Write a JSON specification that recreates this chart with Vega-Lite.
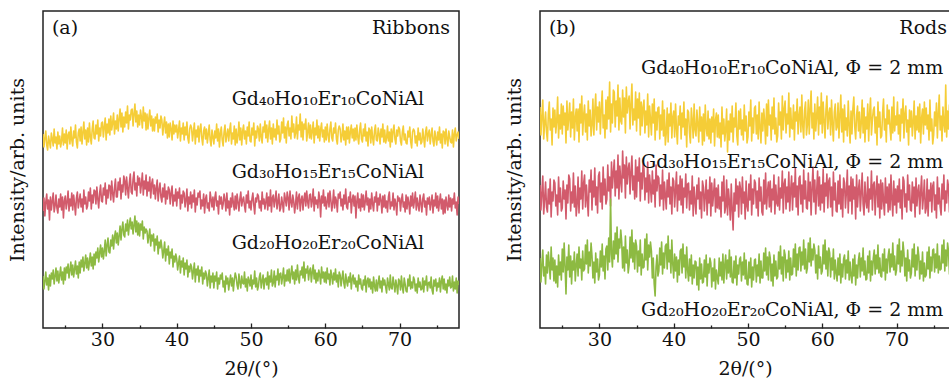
{
"$schema": "https://vega.github.io/schema/vega-lite/v6.json",
"padding": {"left": 7, "top": 10, "right": 0, "bottom": 0},
"spacing": 44,
"datasets": {
"xrd": [{
"x": [22,22.125,22.25,22.375,22.5,22.625,22.75,22.875,23,23.125,23.25,23.375,23.5,23.625,23.75,23.875,24,24.125,24.25,24.375,24.5,24.625,24.75,24.875,25,25.125,25.25,25.375,25.5,25.625,25.75,25.875,26,26.125,26.25,26.375,26.5,26.625,26.75,26.875,27,27.125,27.25,27.375,27.5,27.625,27.75,27.875,28,28.125,28.25,28.375,28.5,28.625,28.75,28.875,29,29.125,29.25,29.375,29.5,29.625,29.75,29.875,30,30.125,30.25,30.375,30.5,30.625,30.75,30.875,31,31.125,31.25,31.375,31.5,31.625,31.75,31.875,32,32.125,32.25,32.375,32.5,32.625,32.75,32.875,33,33.125,33.25,33.375,33.5,33.625,33.75,33.875,34,34.125,34.25,34.375,34.5,34.625,34.75,34.875,35,35.125,35.25,35.375,35.5,35.625,35.75,35.875,36,36.125,36.25,36.375,36.5,36.625,36.75,36.875,37,37.125,37.25,37.375,37.5,37.625,37.75,37.875,38,38.125,38.25,38.375,38.5,38.625,38.75,38.875,39,39.125,39.25,39.375,39.5,39.625,39.75,39.875,40,40.125,40.25,40.375,40.5,40.625,40.75,40.875,41,41.125,41.25,41.375,41.5,41.625,41.75,41.875,42,42.125,42.25,42.375,42.5,42.625,42.75,42.875,43,43.125,43.25,43.375,43.5,43.625,43.75,43.875,44,44.125,44.25,44.375,44.5,44.625,44.75,44.875,45,45.125,45.25,45.375,45.5,45.625,45.75,45.875,46,46.125,46.25,46.375,46.5,46.625,46.75,46.875,47,47.125,47.25,47.375,47.5,47.625,47.75,47.875,48,48.125,48.25,48.375,48.5,48.625,48.75,48.875,49,49.125,49.25,49.375,49.5,49.625,49.75,49.875,50,50.125,50.25,50.375,50.5,50.625,50.75,50.875,51,51.125,51.25,51.375,51.5,51.625,51.75,51.875,52,52.125,52.25,52.375,52.5,52.625,52.75,52.875,53,53.125,53.25,53.375,53.5,53.625,53.75,53.875,54,54.125,54.25,54.375,54.5,54.625,54.75,54.875,55,55.125,55.25,55.375,55.5,55.625,55.75,55.875,56,56.125,56.25,56.375,56.5,56.625,56.75,56.875,57,57.125,57.25,57.375,57.5,57.625,57.75,57.875,58,58.125,58.25,58.375,58.5,58.625,58.75,58.875,59,59.125,59.25,59.375,59.5,59.625,59.75,59.875,60,60.125,60.25,60.375,60.5,60.625,60.75,60.875,61,61.125,61.25,61.375,61.5,61.625,61.75,61.875,62,62.125,62.25,62.375,62.5,62.625,62.75,62.875,63,63.125,63.25,63.375,63.5,63.625,63.75,63.875,64,64.125,64.25,64.375,64.5,64.625,64.75,64.875,65,65.125,65.25,65.375,65.5,65.625,65.75,65.875,66,66.125,66.25,66.375,66.5,66.625,66.75,66.875,67,67.125,67.25,67.375,67.5,67.625,67.75,67.875,68,68.125,68.25,68.375,68.5,68.625,68.75,68.875,69,69.125,69.25,69.375,69.5,69.625,69.75,69.875,70,70.125,70.25,70.375,70.5,70.625,70.75,70.875,71,71.125,71.25,71.375,71.5,71.625,71.75,71.875,72,72.125,72.25,72.375,72.5,72.625,72.75,72.875,73,73.125,73.25,73.375,73.5,73.625,73.75,73.875,74,74.125,74.25,74.375,74.5,74.625,74.75,74.875,75,75.125,75.25,75.375,75.5,75.625,75.75,75.875,76,76.125,76.25,76.375,76.5,76.625,76.75,76.875,77,77.125,77.25,77.375,77.5,77.625,77.75,77.875,78],
"a1": [194,181,190,197,183,178,192,186,180,195,189,182,199,185,191,179,196,184,192,181,187,200,183,194,185,198,179,193,196,184,201,188,182,197,190,203,186,180,195,199,187,201,184,196,206,189,198,183,200,186,205,191,184,199,207,190,189,203,194,208,187,200,192,205,206,191,201,210,188,204,195,209,193,212,198,205,215,194,207,199,213,197,209,219,201,215,196,211,201,216,205,222,199,213,208,218,219,202,214,224,206,217,201,213,203,218,211,200,221,207,215,198,214,199,210,218,202,212,197,209,197,211,205,214,196,208,200,212,208,193,203,211,195,206,190,204,191,205,199,188,207,194,203,196,203,190,198,207,187,200,194,205,188,201,193,206,190,185,199,203,200,187,196,205,184,198,191,202,186,199,204,190,183,197,201,189,199,185,194,203,188,182,198,191,184,197,190,204,187,199,181,195,201,188,182,196,203,186,193,199,187,198,205,184,195,189,202,183,199,185,192,206,188,200,183,197,203,189,197,184,201,192,206,187,186,200,193,205,182,197,190,202,199,187,204,191,185,201,196,207,190,203,186,198,207,189,200,184,204,191,199,188,208,194,202,186,189,206,195,210,190,201,185,203,207,192,200,189,212,196,204,190,195,211,189,203,198,214,191,206,188,204,199,209,187,196,205,190,203,189,197,206,185,200,193,208,190,202,187,199,205,191,198,186,201,188,204,193,186,199,206,190,187,200,195,205,189,184,198,202,199,186,192,204,188,197,183,201,189,201,185,196,203,190,199,187,200,188,203,191,184,198,205,189,186,199,192,204,187,196,182,200,198,185,201,190,183,197,203,188,187,200,194,184,199,191,204,186,198,185,190,202,187,196,181,199,186,197,203,189,184,198,192,201,199,187,183,196,202,188,194,185,184,197,191,201,186,180,196,199,197,185,192,182,200,188,195,184,186,199,190,181,196,201,187,194,198,184,193,200,187,182,197,190,183,196,188,201,185,194,180,197,196,184,199,189,182,197,191,186,185,198,181,194,200,187,193,196,189],
"a2": [117,130,112,126,134,119,128,108,131,118,127,135,116,122,133,120,115,129,121,134,118,131,110,127,132,119,126,137,117,129,122,135,118,133,124,113,130,136,120,127,134,121,129,116,138,124,131,119,122,136,127,140,119,133,125,138,137,124,141,129,120,135,143,127,126,140,133,145,124,138,130,143,142,128,147,135,126,140,149,131,131,146,138,150,129,143,136,152,147,133,151,140,130,145,154,136,134,149,156,138,145,132,152,143,150,135,144,155,133,147,139,153,132,146,137,151,130,144,149,134,143,129,140,148,127,138,145,131,126,140,131,144,124,137,129,141,138,124,135,142,122,133,127,139,122,136,130,140,119,133,125,137,135,121,128,139,117,131,124,136,120,133,126,138,116,130,123,135,131,137,119,128,122,134,115,129,133,120,125,117,136,129,121,131,118,130,136,122,127,114,132,124,131,119,124,134,128,117,135,120,127,113,130,121,135,125,118,132,119,134,126,117,129,136,122,128,131,122,116,133,125,137,120,127,118,129,135,123,114,130,126,134,132,120,127,117,136,124,129,119,126,135,118,131,122,138,116,130,133,121,128,137,119,126,134,117,120,131,124,116,135,129,122,136,130,118,137,126,121,133,127,115,124,136,119,130,134,117,128,132,118,129,135,122,137,126,120,133,134,121,127,139,117,131,124,128,120,136,129,111,132,125,138,122,131,119,126,135,121,137,128,117,125,138,120,131,127,116,134,130,136,122,129,118,133,124,139,121,119,131,126,136,115,128,133,122,132,110,127,135,120,129,117,134,121,133,118,126,137,123,130,116,129,119,135,124,117,131,126,136,117,130,123,134,128,115,132,121,133,120,127,116,131,136,119,126,122,135,118,129,124,113,132,127,130,117,128,134,121,126,116,133,119,131,125,114,132,122,135,120,127,136,118,130,123,117,133,125,116,129,134,121,127,113,130,124,131,118,125,133,115,128,122,135,120,132,117,126,134,119,129,114,128,115,131,123,118,133,121,130,117,129,124,135,120,126,113,131,124],
"a3": [52,39,47,56,43,50,38,53,42,55,49,58,44,52,60,47,57,45,53,61,48,56,44,60,48,61,55,64,50,58,66,53,63,51,59,67,54,62,50,66,55,68,61,71,57,65,73,60,70,58,66,75,62,71,59,74,63,76,70,80,66,75,83,71,80,69,77,88,72,83,90,76,75,88,82,93,79,91,97,85,95,83,92,102,88,99,106,93,91,104,97,108,93,103,110,99,106,94,103,112,96,107,93,105,92,104,98,107,89,101,95,99,97,85,92,99,82,93,87,94,77,89,83,92,74,86,80,88,81,70,77,86,67,79,73,82,64,76,70,79,61,72,66,74,69,58,65,72,55,67,61,70,53,65,59,68,51,62,56,64,61,49,57,65,46,59,53,62,46,58,52,61,44,55,49,57,54,42,50,58,40,52,46,55,40,52,47,56,39,50,44,53,49,55,41,47,36,52,44,50,38,46,53,42,50,37,48,55,51,43,39,54,46,40,52,45,44,56,41,49,37,51,47,42,53,39,48,44,57,41,50,38,42,51,55,40,47,53,39,49,50,43,56,39,52,46,58,42,45,57,41,52,48,59,43,54,55,44,51,60,42,53,47,58,47,59,45,54,62,49,56,44,58,48,63,51,45,57,53,61,50,66,47,59,55,62,48,57,60,46,56,63,49,58,45,55,47,58,53,44,61,50,56,46,56,45,60,49,54,43,58,52,44,55,48,59,46,53,41,56,53,42,50,57,45,40,54,47,42,51,46,55,39,49,53,44,50,41,47,37,53,44,49,40,38,48,43,52,36,47,50,41,49,39,46,35,51,42,37,48,37,45,52,40,47,36,50,43,48,41,35,50,44,38,53,40,39,51,44,36,48,42,34,49,47,38,52,41,35,50,44,37,36,49,42,53,39,46,40,51,48,37,44,35,50,41,46,38,39,50,36,47,43,52,37,45,46,40,51,38,34,48,42,49,37,45,41,50,36,47,52,39,49,38,44,35,48,42,51,40,41,52,37,46,39,50,35,47,43],
"b1": [221,193,212,228,189,205,216,196,187,214,226,198,209,183,220,201,218,195,207,231,190,213,199,224,194,222,203,215,185,227,198,211,225,191,216,200,229,188,210,219,197,219,186,224,205,232,193,213,223,196,214,188,227,202,218,192,203,229,193,217,234,198,221,206,226,194,219,237,200,213,190,228,199,231,209,246,196,224,205,238,236,201,227,212,243,198,230,207,204,238,211,230,195,241,215,226,232,199,224,244,203,219,208,236,197,229,210,235,193,226,202,221,228,195,217,203,234,191,222,209,193,224,205,229,188,216,198,220,221,189,213,198,227,192,218,183,195,220,186,214,202,225,190,211,217,191,224,199,184,212,203,222,189,215,201,226,193,209,181,218,216,195,185,220,207,190,224,198,192,218,204,186,221,197,211,183,214,187,223,200,192,217,189,209,185,211,196,219,182,208,215,191,213,190,205,181,221,194,209,187,198,219,176,207,188,214,196,222,186,210,201,225,192,183,217,199,219,193,208,188,223,197,212,185,191,216,202,228,187,210,195,220,222,194,213,189,226,200,185,215,197,219,206,184,224,192,228,203,213,188,221,199,230,194,210,186,192,225,203,216,189,232,198,219,227,195,214,204,235,191,220,200,199,223,188,216,207,229,194,212,221,196,233,202,190,218,226,193,203,228,194,219,237,200,215,189,224,197,212,231,193,221,204,235,195,226,207,190,218,232,199,214,220,193,228,204,187,216,224,198,201,225,190,213,233,196,219,186,223,198,210,192,227,203,185,217,194,219,231,201,189,213,222,197,216,190,205,228,195,220,186,211,199,224,187,214,230,193,208,218,221,195,211,183,226,201,216,190,192,215,229,198,209,186,223,204,218,200,188,221,195,231,197,212,203,226,194,213,187,219,205,229,190,214,222,196,208,183,218,201,217,192,206,227,189,212,198,221,196,224,185,210,219,194,226,203,220,199,213,188,228,197,209,184,193,216,202,225,190,214,233,198,212,187,221,204,196,243,191,217,199,223,210,201,188,219,206,213,206],
"b2": [143,118,135,152,114,129,146,121,116,139,124,149,111,136,127,148,145,122,133,113,151,126,140,117,120,147,129,138,109,143,125,153,149,117,136,125,155,121,142,112,124,151,115,140,129,157,119,145,153,121,143,128,112,148,136,158,118,147,131,160,123,141,115,152,156,126,145,119,161,133,149,124,129,163,137,151,122,166,140,155,168,132,157,140,173,129,162,147,136,177,150,163,130,171,144,159,165,134,156,172,138,152,129,168,131,161,147,170,127,155,139,164,159,128,150,136,166,125,153,141,126,157,134,148,121,163,137,152,150,122,143,129,158,118,146,133,119,148,131,155,124,141,114,150,147,121,138,156,117,143,128,152,123,149,115,140,131,154,120,144,145,118,137,124,152,112,141,127,114,143,129,150,119,136,110,147,141,117,133,148,113,138,125,151,112,145,122,135,149,116,140,120,143,119,131,111,146,127,152,115,121,148,113,139,126,108,144,118,98,135,117,149,124,142,111,146,139,114,151,125,136,109,147,122,117,144,128,153,113,139,124,148,145,120,137,112,150,127,141,116,113,148,124,155,119,136,146,121,147,116,139,128,153,114,143,125,122,151,118,140,130,157,115,144,149,119,141,126,156,117,138,152,118,145,131,160,121,142,113,150,152,124,143,116,158,129,147,120,119,155,127,146,113,140,161,126,148,114,137,157,122,151,118,143,125,159,116,145,132,154,120,147,150,121,141,112,156,128,145,117,116,147,124,153,119,139,111,150,145,120,136,158,115,142,127,151,114,149,129,141,109,153,121,138,148,117,135,155,124,113,146,127,120,151,116,139,129,157,118,143,146,113,137,152,121,144,110,148,119,145,127,113,150,125,141,116,144,118,153,129,112,147,123,139,115,142,126,149,120,138,109,151,147,121,134,116,153,128,143,118,117,146,125,141,111,150,122,137,143,114,136,152,119,131,148,115,120,149,112,138,127,145,116,142,146,118,133,110,151,124,140,121,113,144,129,153,117,137,125,148,141,116,150,122,135,112,146,127,131],
"b3": [70,46,64,78,52,61,44,73,55,76,63,49,81,58,70,47,68,45,62,41,73,53,66,48,79,56,85,62,34,71,58,83,51,72,44,67,58,76,47,63,74,52,81,60,69,48,77,57,59,83,64,88,55,76,62,85,72,50,66,45,75,56,69,48,53,77,61,84,57,72,49,79,82,58,90,66,129,74,61,87,69,95,74,101,66,89,80,98,86,60,81,57,92,65,78,55,63,91,70,98,66,85,59,88,82,56,77,62,88,53,74,60,61,89,68,94,58,83,71,86,77,50,70,44,32,61,73,52,57,80,63,86,54,75,60,82,84,59,92,66,78,55,88,64,50,74,57,71,46,68,53,77,79,55,84,61,73,50,81,58,47,69,52,73,44,63,50,67,66,43,61,38,70,49,64,45,46,68,51,73,42,64,55,70,65,41,60,47,69,39,58,50,44,70,52,66,48,74,45,63,73,49,68,55,78,51,71,46,45,67,50,72,43,63,54,69,71,47,66,53,75,49,68,44,43,66,50,70,41,61,48,68,69,46,63,52,74,45,67,50,50,75,57,80,53,71,48,76,70,47,64,42,73,52,67,49,51,76,59,82,54,71,47,78,73,50,68,56,77,48,70,53,54,79,61,84,52,74,58,80,81,57,76,63,88,59,79,55,60,85,66,90,62,79,68,84,78,55,73,49,82,60,71,54,57,83,64,88,59,77,52,80,75,51,70,58,79,49,68,55,47,70,53,74,45,64,51,69,73,49,68,55,77,48,66,52,45,69,52,73,43,63,50,68,75,51,70,57,80,53,67,48,49,72,55,77,47,67,53,70,78,54,73,59,83,55,70,52,51,74,57,79,48,69,55,72,79,56,74,61,85,58,72,53,58,83,64,89,56,77,62,86,75,52,70,47,78,57,68,50,55,79,61,84,52,73,58,81,72,49,67,54,76,47,65,51,53,76,59,81,50,71,57,78,79,56,74,60,84,55,72,58,59,83,65,88,57,78,62,85,77,54,72,59,81,56,70,52,65]
}],
"labels": [
{"p":"a","x":23.2,"y":294,"t":"(a)","al":"l"},
{"p":"a","x":76.8,"y":294,"t":"Ribbons","al":"r"},
{"p":"a","x":47.4,"y":223,"t":"Gd₄₀Ho₁₀Er₁₀CoNiAl","al":"l"},
{"p":"a","x":47.4,"y":150,"t":"Gd₃₀Ho₁₅Er₁₅CoNiAl","al":"l"},
{"p":"a","x":47.4,"y":79,"t":"Gd₂₀Ho₂₀Er₂₀CoNiAl","al":"l"},
{"p":"b","x":23.2,"y":294,"t":"(b)","al":"l"},
{"p":"b","x":76.8,"y":294,"t":"Rods","al":"r"},
{"p":"b","x":35.6,"y":254,"t":"Gd₄₀Ho₁₀Er₁₀CoNiAl, Φ = 2 mm","al":"l"},
{"p":"b","x":35.6,"y":160,"t":"Gd₃₀Ho₁₅Er₁₅CoNiAl, Φ = 2 mm","al":"l"},
{"p":"b","x":35.6,"y":12,"t":"Gd₂₀Ho₂₀Er₂₀CoNiAl, Φ = 2 mm","al":"l"}
]
},
"config": {
"font": "DejaVu Serif",
"view": {"stroke": "#222", "strokeWidth": 1.5},
"axis": {"grid": false, "labelFont": "DejaVu Serif", "titleFont": "DejaVu Serif", "labelFontSize": 19, "titleFontSize": 19, "titleFontWeight": "normal", "labelColor": "#111", "titleColor": "#111", "tickColor": "#222", "domain": false},
"axisY": {"labels": false, "ticks": false, "titlePadding": 16},
"text": {"font": "DejaVu Serif", "fontSize": 19, "color": "#111", "baseline": "alphabetic"}
},
"hconcat": [
{
"width": 416, "height": 317,
"data": {"name": "xrd"},
"resolve": {"axis": {"x": "independent"}},
"layer": [
{
"transform": [{"flatten": ["x", "a1", "a2", "a3"]}, {"fold": ["a1", "a2", "a3"], "as": ["series", "y"]}],
"mark": {"type": "line", "strokeWidth": 1.6, "strokeJoin": "round", "clip": true},
"encoding": {
"x": {"field": "x", "type": "quantitative", "scale": {"domain": [22, 78], "nice": false, "zero": false}, "axis": {"orient": "bottom", "values": [30, 40, 50, 60, 70], "tickSize": -5, "tickWidth": 1.3, "labelPadding": 7, "title": "2θ/(°)", "titlePadding": 10}},
"y": {"field": "y", "type": "quantitative", "scale": {"domain": [0, 317], "nice": false, "zero": false}, "title": "Intensity/arb. units"},
"color": {"field": "series", "type": "nominal", "scale": {"domain": ["a1", "a2", "a3"], "range": ["#F5CD37", "#D25B6C", "#8DBA42"]}, "legend": null}
}
},
{
"data": {"name": "labels"},
"transform": [{"filter": "datum.p == 'a' && datum.al == 'l'"}],
"mark": {"type": "text", "align": "left"},
"encoding": {
"x": {"field": "x", "type": "quantitative", "axis": {"orient": "bottom", "values": [25, 35, 45, 55, 65, 75], "tickSize": -3, "tickWidth": 1.3, "labels": false, "title": null}},
"y": {"field": "y", "type": "quantitative", "title": "Intensity/arb. units"},
"text": {"field": "t"}
}
},
{
"data": {"name": "labels"},
"transform": [{"filter": "datum.p == 'a' && datum.al == 'r'"}],
"mark": {"type": "text", "align": "right"},
"encoding": {
"x": {"field": "x", "type": "quantitative", "axis": null},
"y": {"field": "y", "type": "quantitative", "title": "Intensity/arb. units"},
"text": {"field": "t"}
}
}
]
},
{
"width": 410, "height": 317,
"data": {"name": "xrd"},
"resolve": {"axis": {"x": "independent"}},
"layer": [
{
"transform": [{"flatten": ["x", "b1", "b2", "b3"]}, {"fold": ["b1", "b2", "b3"], "as": ["series", "y"]}],
"mark": {"type": "line", "strokeWidth": 1.6, "strokeJoin": "round", "clip": true},
"encoding": {
"x": {"field": "x", "type": "quantitative", "scale": {"domain": [22, 77.2], "nice": false, "zero": false}, "axis": {"orient": "bottom", "values": [30, 40, 50, 60, 70], "tickSize": -5, "tickWidth": 1.3, "labelPadding": 7, "title": "2θ/(°)", "titlePadding": 10}},
"y": {"field": "y", "type": "quantitative", "scale": {"domain": [0, 317], "nice": false, "zero": false}, "title": "Intensity/arb. units"},
"color": {"field": "series", "type": "nominal", "scale": {"domain": ["b1", "b2", "b3"], "range": ["#F5CD37", "#D25B6C", "#8DBA42"]}, "legend": null}
}
},
{
"data": {"name": "labels"},
"transform": [{"filter": "datum.p == 'b' && datum.al == 'l'"}],
"mark": {"type": "text", "align": "left"},
"encoding": {
"x": {"field": "x", "type": "quantitative", "axis": {"orient": "bottom", "values": [25, 35, 45, 55, 65, 75], "tickSize": -3, "tickWidth": 1.3, "labels": false, "title": null}},
"y": {"field": "y", "type": "quantitative", "title": "Intensity/arb. units"},
"text": {"field": "t"}
}
},
{
"data": {"name": "labels"},
"transform": [{"filter": "datum.p == 'b' && datum.al == 'r'"}],
"mark": {"type": "text", "align": "right"},
"encoding": {
"x": {"field": "x", "type": "quantitative", "axis": null},
"y": {"field": "y", "type": "quantitative", "title": "Intensity/arb. units"},
"text": {"field": "t"}
}
}
]
}
]
}
